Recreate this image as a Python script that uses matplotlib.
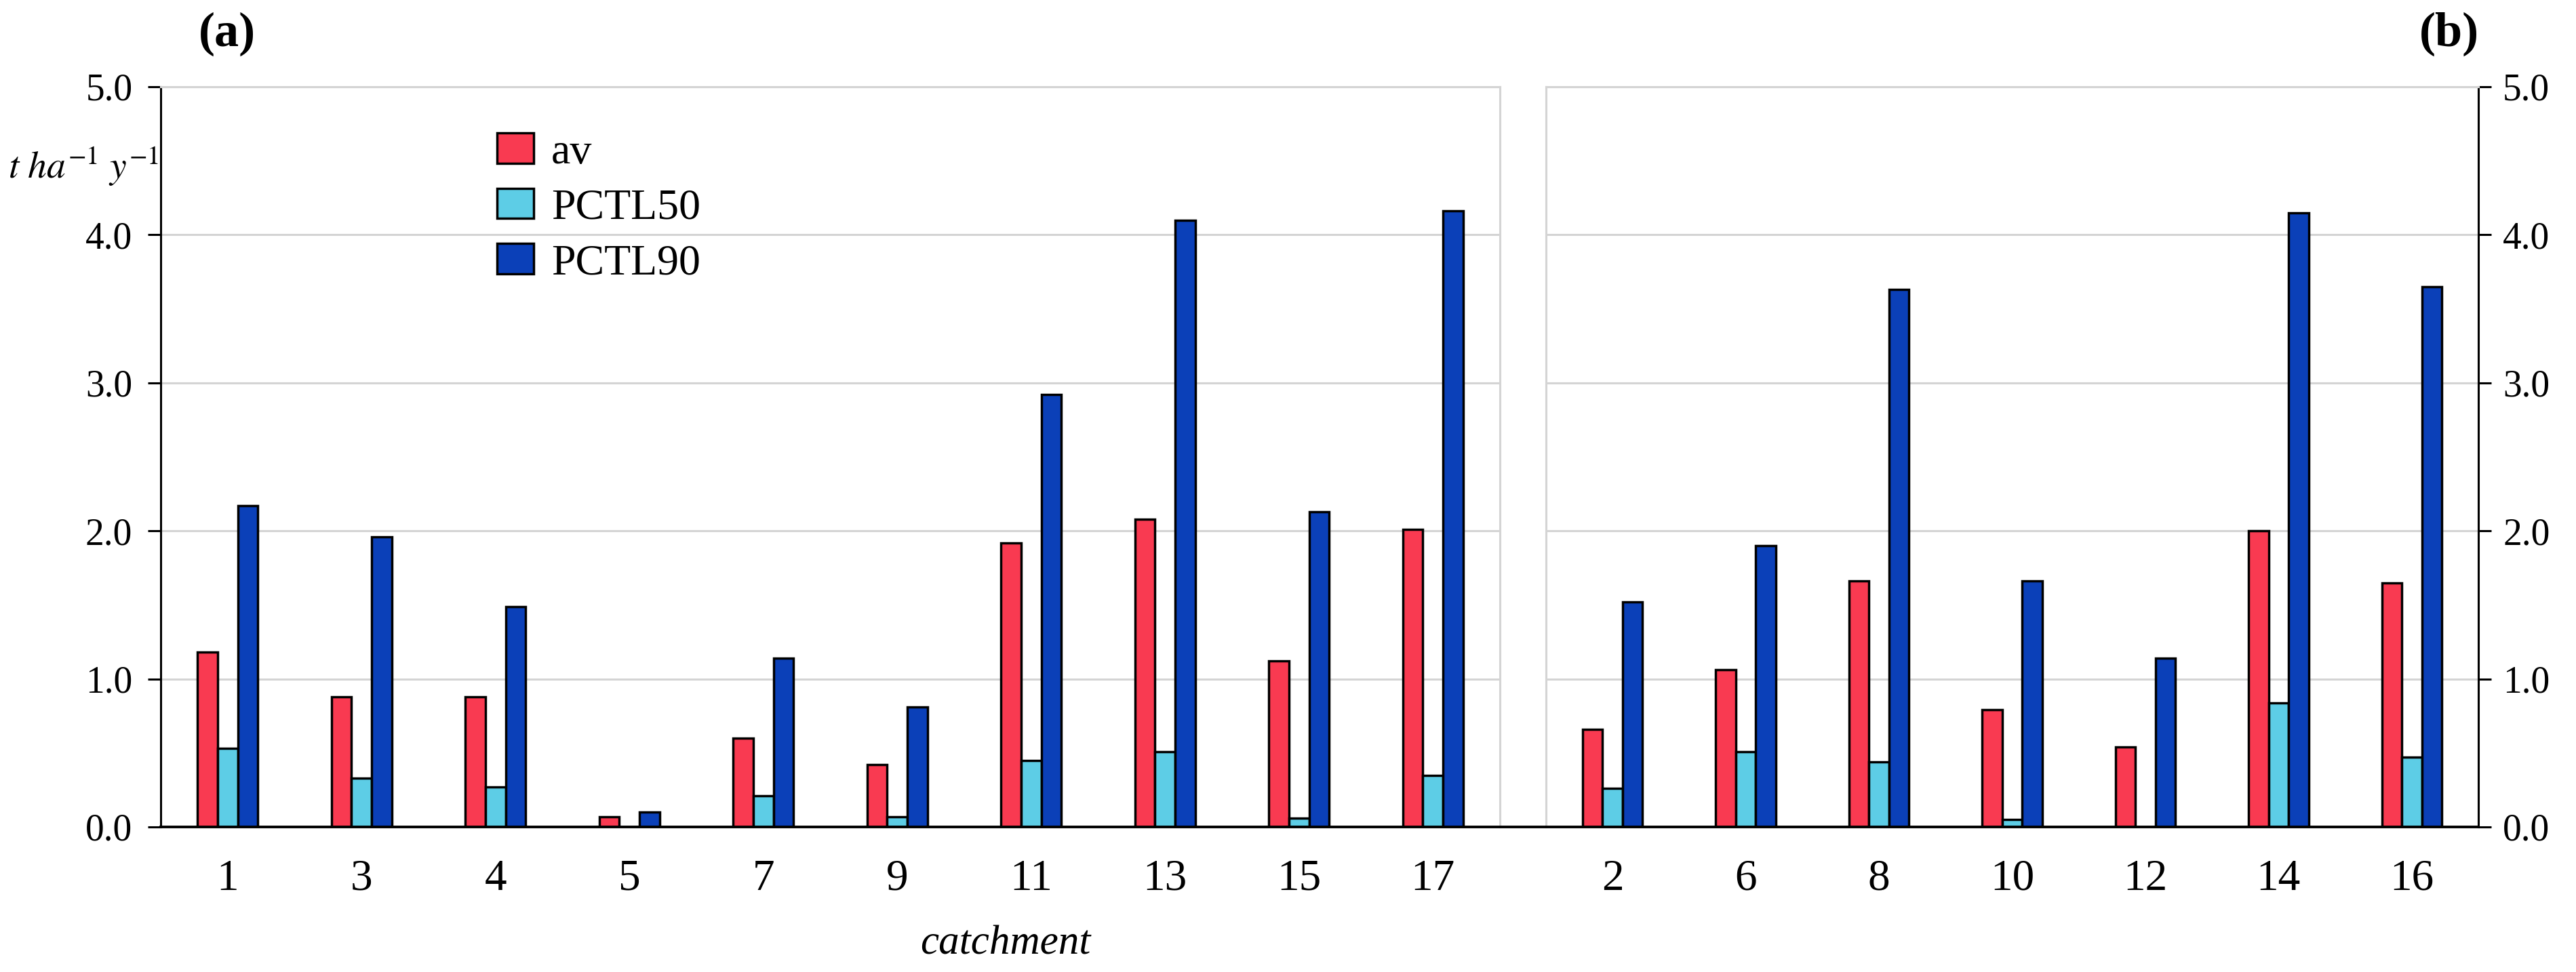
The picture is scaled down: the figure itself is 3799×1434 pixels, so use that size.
import numpy as np
import matplotlib
matplotlib.use('Agg')
import matplotlib.pyplot as plt
from matplotlib.lines import Line2D

plt.rcParams['font.family'] = ['Liberation Serif', 'DejaVu Serif']
plt.rcParams['mathtext.fontset'] = 'stix'

# Data (t ha-1 y-1)
catch_a = ['1', '3', '4', '5', '7', '9', '11', '13', '15', '17']
av_a = [1.18, 0.88, 0.88, 0.07, 0.60, 0.42, 1.92, 2.08, 1.12, 2.01]
p50_a = [0.53, 0.33, 0.27, 0.0, 0.21, 0.07, 0.45, 0.51, 0.06, 0.35]
p90_a = [2.17, 1.96, 1.49, 0.10, 1.14, 0.81, 2.92, 4.10, 2.13, 4.16]

catch_b = ['2', '6', '8', '10', '12', '14', '16']
av_b = [0.66, 1.06, 1.66, 0.79, 0.54, 2.00, 1.65]
p50_b = [0.26, 0.51, 0.44, 0.05, 0.0, 0.84, 0.47]
p90_b = [1.52, 1.90, 3.63, 1.66, 1.14, 4.15, 3.65]

series_names = ['av', 'PCTL50', 'PCTL90']
colors = ['#F93A51', '#5DCDE6', '#0B40B8']
grey = '#D4D4D4'

W, H = 3799, 1434
fig = plt.figure(figsize=(W / 100, H / 100), dpi=100)

y0 = 1220   # pixel row of zero line
y5 = 128    # pixel row of 5.0
xa0, xa1 = 237, 2212
xb0, xb1 = 2280, 3655

ax1 = fig.add_axes([xa0 / W, 1 - y0 / H, (xa1 - xa0) / W, (y0 - y5) / H])
ax2 = fig.add_axes([xb0 / W, 1 - y0 / H, (xb1 - xb0) / W, (y0 - y5) / H])

bw = 0.15
handles = []
for ax, cats, vals in [(ax1, catch_a, [av_a, p50_a, p90_a]),
                       (ax2, catch_b, [av_b, p50_b, p90_b])]:
    x = np.arange(len(cats))
    for k in range(3):
        b = ax.bar(x + (k - 1) * bw, vals[k], bw, color=colors[k],
                   edgecolor='black', linewidth=2.5, label=series_names[k], zorder=3)
        if ax is ax1:
            handles.append(b)
    ax.set_xlim(-0.5, len(cats) - 0.5)
    ax.set_ylim(0, 5)
    ax.set_xticks(x)
    ax.set_xticklabels(cats)
    ax.set_yticks(np.arange(0, 6, 1))
    ax.set_yticklabels(['%.1f' % v for v in np.arange(0, 6, 1)])
    ax.grid(axis='y', color=grey, linewidth=2.2, zorder=0)
    ax.set_axisbelow(True)
    ax.tick_params(axis='x', length=0, pad=34, labelsize=47)
    ax.tick_params(axis='y', length=14, width=2.2, labelsize=40, direction='out')
    for s in ax.spines.values():
        s.set_color(grey)
        s.set_linewidth(2.2)
    ax.spines['bottom'].set_visible(False)

ax1.spines['left'].set_color('black')
ax1.tick_params(axis='y', pad=16)
ax2.yaxis.tick_right()
ax2.spines['right'].set_color('black')
ax2.tick_params(axis='y', pad=12)

# continuous zero line across both panels
fig.add_artist(Line2D([xa0 / W, xb1 / W], [1 - y0 / H, 1 - y0 / H],
                      color='black', linewidth=2.8, transform=fig.transFigure))

fig.legend(handles=handles, labels=series_names, loc='upper left',
           bbox_to_anchor=(733 / W, 1 - 196 / H), frameon=False, fontsize=46,
           handlelength=0.85, handleheight=0.7, handletextpad=0.4,
           labelspacing=0.36, borderpad=0, borderaxespad=0)

fig.text(12 / W, 1 - 245 / H, r'$t\ ha^{-1}\ y^{-1}$', fontsize=40,
         ha='left', va='center')
fig.text(1483 / W, 1 - 1393 / H, 'catchment', fontsize=44, style='italic',
         ha='center', va='center')
fig.text(335 / W, 1 - 50 / H, '(a)', fontsize=52, fontweight='bold',
         ha='center', va='center')
fig.text(3612 / W, 1 - 50 / H, '(b)', fontsize=52, fontweight='bold',
         ha='center', va='center')

fig.savefig('out.png', dpi=100, facecolor='white')
